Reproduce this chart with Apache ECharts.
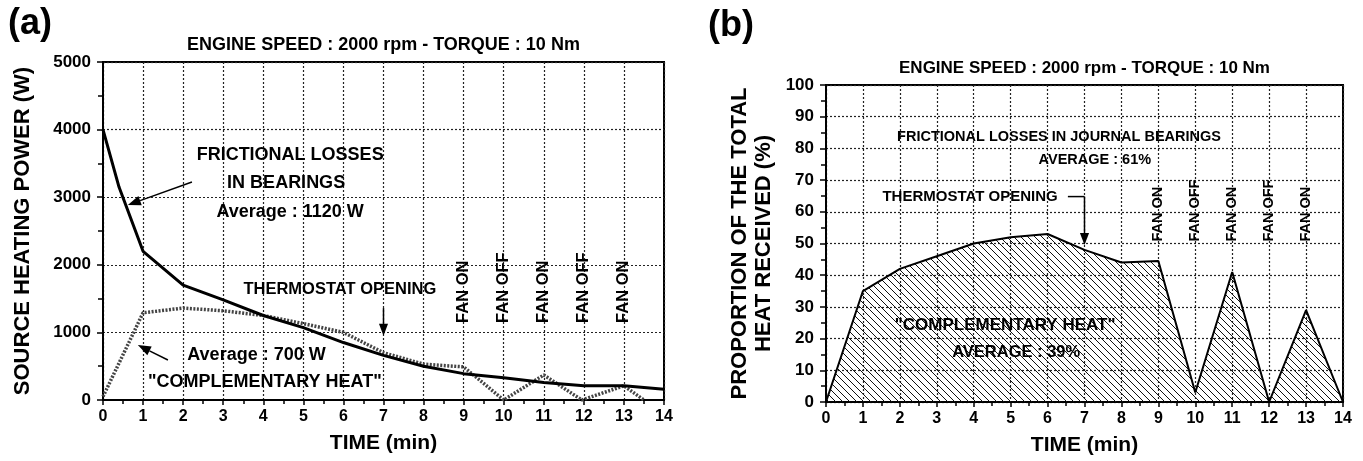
<!DOCTYPE html>
<html>
<head>
<meta charset="utf-8">
<script src="https://cdn.jsdelivr.net/npm/echarts@6/dist/echarts.min.js"></script>
<style>
  html, body { margin: 0; padding: 0; background: #fff; }
  #main { width: 1363px; height: 461px; }
</style>
</head>
<body>
<div id="main"></div>
<script>
// panel (a): source heating power (W) vs time (min)
const frictionA = [[0, 4000], [0.4, 3150], [1, 2200], [2, 1700], [3, 1480], [4, 1250], [5, 1070], [6, 850],
  [7, 660], [8, 500], [9, 390], [10, 330], [11, 260], [12, 210], [13, 210], [14, 160]];
const complementA = [[0, 50], [1, 1290], [2, 1360], [3, 1320], [4, 1250], [5, 1130], [6, 1000], [7, 700],
  [8, 530], [9, 490], [10, 0], [11, 370], [11.95, 0], [13, 210], [13.5, 0]];
// panel (b): proportion of total heat received (%)
const complementB = [[0, 0], [1, 35], [2, 42], [3, 46], [4, 50], [5, 52], [6, 53], [7, 48], [8, 44],
  [9, 44.5], [10, 3], [11, 41], [12, 0], [13, 29], [14, 0]];
const fanTimes = [9, 10, 11, 12, 13];
const fanLabels = ['FAN ON', 'FAN OFF', 'FAN ON', 'FAN OFF', 'FAN ON'];

const FONT = '"Liberation Sans", Arial, Helvetica, sans-serif';

// hatch pattern for the area in (b)
function hatch() {
  const c = document.createElement('canvas');
  c.width = 7; c.height = 7;
  const g = c.getContext('2d');
  g.strokeStyle = '#111';
  g.lineWidth = 1;
  g.beginPath();
  g.moveTo(-1, -1); g.lineTo(8, 8);
  g.moveTo(-1, 6); g.lineTo(1, 8);
  g.moveTo(6, -1); g.lineTo(8, 1);
  g.stroke();
  return c;
}

function xAxisCfg(gi) {
  return {
    type: 'value', gridIndex: gi, min: 0, max: 14, interval: 1,
    name: 'TIME (min)', nameLocation: 'middle', nameGap: 33,
    nameTextStyle: { fontFamily: FONT, fontWeight: 'bold', fontSize: 21, color: '#000' },
    axisLine: { lineStyle: { color: '#000', width: 2 } },
    axisTick: { length: 5, lineStyle: { color: '#000', width: 1.5 } },
    minorTick: { show: true, splitNumber: 2, length: 4, lineStyle: { color: '#000', width: 1.5 } },
    axisLabel: { margin: 9, fontFamily: FONT, fontWeight: 'bold', fontSize: 16, color: '#000' },
    splitLine: { show: true, lineStyle: { color: '#222', width: 1.2, type: [2, 2] } }
  };
}

function yAxisCfg(gi, max, interval, name, gap) {
  return {
    type: 'value', gridIndex: gi, min: 0, max: max, interval: interval,
    name: name, nameLocation: 'middle', nameGap: gap,
    nameTextStyle: { fontFamily: FONT, fontWeight: 'bold', fontSize: 22, color: '#000', lineHeight: 24 },
    axisLine: { show: true, lineStyle: { color: '#000', width: 2 } },
    axisTick: { show: true, length: 6, lineStyle: { color: '#000', width: 1.5 } },
    minorTick: { show: true, splitNumber: 2, length: 5, lineStyle: { color: '#000', width: 1.5 } },
    axisLabel: { margin: 12, fontFamily: FONT, fontWeight: 'bold', fontSize: 17, color: '#000',
      formatter: v => String(v) },
    splitLine: { show: true, lineStyle: { color: '#222', width: 1.2, type: [2, 2] } }
  };
}

const chart = echarts.init(document.getElementById('main'));
chart.setOption({
  animation: false,
  backgroundColor: '#fff',
  title: [
    { text: '(a)', left: 3, top: 1, textStyle: { fontFamily: FONT, fontWeight: 'bold', fontSize: 36, color: '#000' } },
    { text: '(b)', left: 703, top: 3, textStyle: { fontFamily: FONT, fontWeight: 'bold', fontSize: 36, color: '#000' } }
  ],
  grid: [
    { left: 103, top: 62, width: 561, height: 338, show: true, borderColor: '#000', borderWidth: 2, backgroundColor: 'transparent' },
    { left: 826, top: 85, width: 517, height: 318, show: true, borderColor: '#000', borderWidth: 2, backgroundColor: 'transparent' }
  ],
  xAxis: [xAxisCfg(0), xAxisCfg(1)],
  yAxis: [
    yAxisCfg(0, 5000, 1000, 'SOURCE HEATING POWER (W)', 68),
    yAxisCfg(1, 100, 10, 'PROPORTION OF THE TOTAL\nHEAT RECEIVED (%)', 50)
  ],
  series: [
    {
      name: 'frictional losses', type: 'line', xAxisIndex: 0, yAxisIndex: 0,
      data: frictionA, symbol: 'none', z: 5,
      lineStyle: { color: '#000', width: 3 }
    },
    {
      name: 'complementary heat', type: 'line', xAxisIndex: 0, yAxisIndex: 0,
      data: complementA, symbol: 'none', z: 4,
      lineStyle: { color: '#444', width: 3.5, type: [2, 1.5] }
    },
    {
      name: 'complementary share', type: 'line', xAxisIndex: 1, yAxisIndex: 1,
      data: complementB, symbol: 'none', z: 4,
      lineStyle: { color: '#000', width: 2 },
      areaStyle: { color: { image: hatch(), repeat: 'repeat' }, opacity: 1 }
    }
  ]
});

// annotations, placed in data coordinates
function px(gi, pt) { return chart.convertToPixel({ gridIndex: gi }, pt); }

function txt(gi, pt, text, size, extra) {
  const p = px(gi, pt);
  return Object.assign({
    type: 'text', x: p[0], y: p[1], z: 20,
    style: { text: text, x: 0, y: 0, fill: '#000', align: 'center', verticalAlign: 'middle',
      font: 'bold ' + size + 'px ' + FONT }
  }, extra || {});
}

function arrow(gi, a, b, size) {
  const p0 = px(gi, a), p1 = px(gi, b);
  const dx = p1[0] - p0[0], dy = p1[1] - p0[1], len = Math.hypot(dx, dy);
  const ux = dx / len, uy = dy / len;
  const bx = p1[0] - ux * size, by = p1[1] - uy * size;
  const w = size * 0.38;
  return [
    { type: 'line', z: 20, shape: { x1: p0[0], y1: p0[1], x2: bx, y2: by }, style: { stroke: '#000', lineWidth: 1.5 } },
    { type: 'polygon', z: 20, shape: { points: [[p1[0], p1[1]], [bx - uy * w, by + ux * w], [bx + uy * w, by - ux * w]] },
      style: { fill: '#000' } }
  ];
}

function seg(gi, a, b) {
  const p0 = px(gi, a), p1 = px(gi, b);
  return { type: 'line', z: 20, shape: { x1: p0[0], y1: p0[1], x2: p1[0], y2: p1[1] }, style: { stroke: '#000', lineWidth: 1.5 } };
}

function fan(gi, t, v, text, size) {
  const p = px(gi, [t, v]);
  return {
    type: 'text', x: p[0], y: p[1], z: 20, rotation: Math.PI / 2,
    style: { text: text, x: 0, y: 0, fill: '#000', align: 'left', verticalAlign: 'middle', font: 'bold ' + size + 'px ' + FONT }
  };
}

const gfx = [];
// headers
gfx.push(txt(0, [7, 5000], 'ENGINE SPEED : 2000 rpm - TORQUE : 10 Nm', 18, { y: 45 }));
gfx.push(txt(1, [7, 100], 'ENGINE SPEED : 2000 rpm - TORQUE : 10 Nm', 17, { y: 68 }));

// panel (a)
gfx.push(txt(0, [4.67, 3624], 'FRICTIONAL LOSSES', 18));
gfx.push(txt(0, [4.57, 3210], 'IN BEARINGS', 18));
gfx.push(txt(0, [4.67, 2780], 'Average : 1120 W', 18));
gfx.push(...arrow(0, [2.22, 3224], [0.62, 2884], 13));
gfx.push(txt(0, [5.91, 1642], 'THERMOSTAT OPENING', 16.5));
gfx.push(...arrow(0, [7, 1360], [7, 950], 12));
gfx.push(txt(0, [3.83, 665], 'Average : 700 W', 18));
gfx.push(txt(0, [4.04, 266], '"COMPLEMENTARY HEAT"', 18));
gfx.push(...arrow(0, [1.62, 592], [0.87, 813], 13));
fanTimes.forEach((t, i) => gfx.push(fan(0, t, 1140, fanLabels[i], 16.5)));

// panel (b)
gfx.push(txt(1, [6.31, 83.6], 'FRICTIONAL LOSSES IN JOURNAL BEARINGS', 14.5));
gfx.push(txt(1, [7.28, 76.4], 'AVERAGE : 61%', 14.5));
gfx.push(txt(1, [3.9, 64.8], 'THERMOSTAT OPENING', 15));
gfx.push(seg(1, [6.55, 64.8], [7, 64.8]));
gfx.push(...arrow(1, [7, 64.8], [7, 49.5], 12));
gfx.push(txt(1, [4.85, 24.2], '"COMPLEMENTARY HEAT"', 17));
gfx.push(txt(1, [5.15, 15.7], 'AVERAGE : 39%', 16.5));
fanTimes.forEach((t, i) => gfx.push(fan(1, t, 50.6, fanLabels[i], 14.5)));

chart.setOption({ graphic: gfx });
</script>
</body>
</html>
